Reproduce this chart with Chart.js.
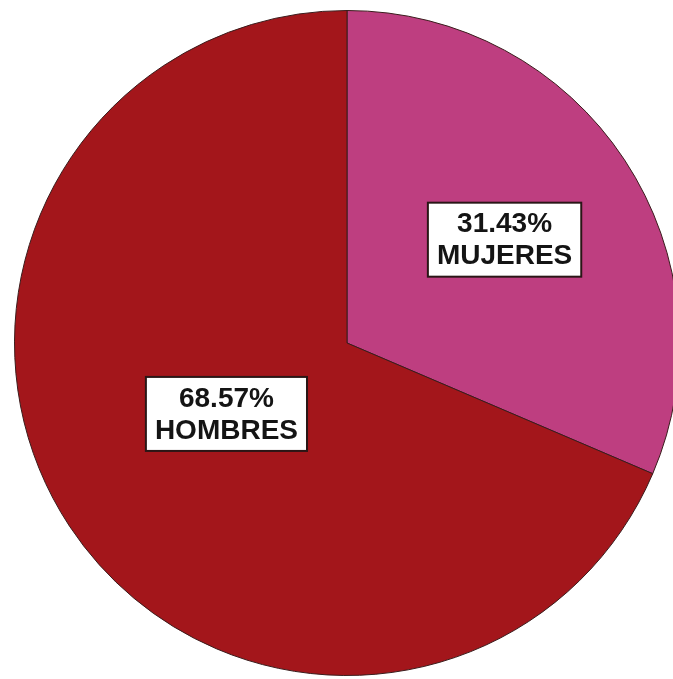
<!DOCTYPE html>
<html>
<head>
<meta charset="utf-8">
<script src="https://cdn.jsdelivr.net/npm/chart.js@4.4.0/dist/chart.umd.min.js"></script>
<style>
    html, body { margin: 0; padding: 0; background: #fff; overflow: hidden; }
    #wrap { width: 694px; height: 686px; }
</style>
</head>
<body>
<div id="wrap"><canvas id="myChart" width="694" height="686"></canvas></div>
<script>
var categories = ['MUJERES', 'HOMBRES'];
var percentages = [31.43, 68.57];
var sliceColors = ['#BE3E80', '#A3161B'];
// label box placement: fraction of radius, plus a small nudge in px
var labelRadius = [0.575, 0.42];
var labelNudge = [[-2, 2], [-4, -6]];

var boxLabels = {
    id: 'boxLabels',
    afterDatasetsDraw: function (chart) {
        var ctx = chart.ctx;
        var meta = chart.getDatasetMeta(0);
        ctx.save();
        ctx.font = 'bold 28px "Liberation Sans", Arial, sans-serif';
        ctx.textAlign = 'center';
        ctx.textBaseline = 'middle';
        meta.data.forEach(function (arc, i) {
            var mid = (arc.startAngle + arc.endAngle) / 2;
            var r = arc.outerRadius * labelRadius[i];
            var x = arc.x + Math.cos(mid) * r + labelNudge[i][0];
            var y = arc.y + Math.sin(mid) * r + labelNudge[i][1];
            var line1 = percentages[i].toFixed(2) + '%';
            var line2 = categories[i];
            var w = Math.max(ctx.measureText(line1).width, ctx.measureText(line2).width) + 18;
            var h = 74;
            ctx.fillStyle = '#ffffff';
            ctx.fillRect(x - w / 2, y - h / 2, w, h);
            ctx.strokeStyle = '#2a1616';
            ctx.lineWidth = 2;
            ctx.strokeRect(x - w / 2, y - h / 2, w, h);
            ctx.fillStyle = '#141414';
            ctx.fillText(line1, x, y - 15);
            ctx.fillText(line2, x, y + 17);
        });
        ctx.restore();
    }
};

var ctx = document.getElementById('myChart').getContext('2d');
var myPieChart = new Chart(ctx, {
    type: 'pie',
    data: {
        labels: categories,
        datasets: [{
            data: percentages,
            backgroundColor: sliceColors,
            borderColor: '#3a1c1c',
            borderWidth: 1
        }]
    },
    options: {
        responsive: false,
        animation: false,
        layout: { padding: 10 },
        plugins: {
            legend: { display: false },
            tooltip: { enabled: false }
        }
    },
    plugins: [boxLabels]
});
</script>
</body>
</html>
